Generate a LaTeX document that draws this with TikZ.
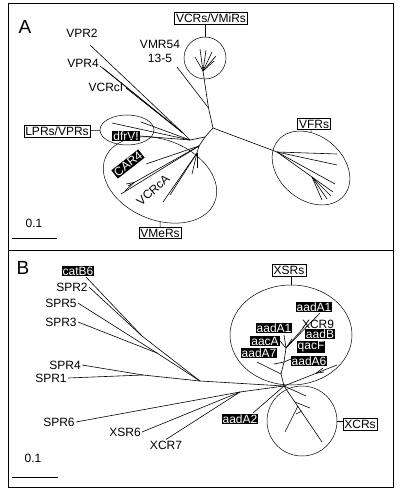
\documentclass[tikz,border=0pt]{standalone}
\usepackage{fontspec}
\setmainfont{Liberation Sans}
\usetikzlibrary{shapes.geometric}
\begin{document}
\begin{tikzpicture}[x=1pt, y=-1pt, line width=0.6pt,
  every node/.style={font=\fontsize{12}{14}\selectfont, inner sep=1pt},
  lab/.style={draw, line width=0.5pt, inner sep=1.5pt},
  tag/.style={fill=black, text=white, inner sep=1pt},
  grp/.style={draw, line width=0.5pt},
  panel/.style={font=\fontsize{19}{20}\selectfont}]
\useasboundingbox (0,0) rectangle (400,494);
\draw[line width=0.8pt] (8,3) rectangle (393,487);
\draw[line width=0.8pt] (8,250) -- (393,250);

% panel A
\node[panel] (pa) at (25,27) {A};
\node (vpr2) at (82,33) {VPR2};
\node (vpr4) at (83,63) {VPR4};
\node (vcrci) at (106,87) {VCRcI};
\node[align=center] (vmr54) at (160,51) {VMR54\\13-5};
\node[lab] (vcrbox) at (211,18) {VCRs/VMiRs};
\node[lab] (lprbox) at (57,131) {LPRs/VPRs};
\node[lab] (vmerbox) at (160,233) {VMeRs};
\node[lab] (vfrbox) at (314,124) {VFRs};
\node[tag] (dfrvi) at (126,136) {dfrVI};
\node[tag, rotate=38] (car4) at (128,164) {CAR4};
\node[rotate=42] (vcrca) at (153,190) {VCRcA};
\node (sa) at (34,223) {0.1};

\node[grp, circle, minimum size=42pt] (vcr) at (205,58) {};
\node[grp, ellipse, minimum width=54pt, minimum height=30pt] (lpr) at (127,130) {};
\node[grp, ellipse, minimum width=118pt, minimum height=80pt, rotate=-22] (vmer) at (160,180) {};
\node[grp, ellipse, minimum width=86pt, minimum height=64pt, rotate=-40] (vfr) at (311,168) {};
\draw[line width=0.5pt] (vcrbox.south -| vcr) -- (vcr);
\draw[line width=0.5pt] (lprbox) -- (lpr);
\draw[line width=0.5pt] (vmerbox) -- (vmer);
\draw[line width=0.5pt] (vfrbox.south -| vfr) -- (vfr);

\coordinate (j0) at (213,128);
\coordinate (vm) at (208.5,108);
\coordinate (vmr) at (177,67);
\coordinate (vc) at (203,71);
\coordinate (vc1) at (195,57);
\coordinate (vc2) at (200,49);
\coordinate (vc3) at (206,50);
\coordinate (vc4) at (212,52);
\coordinate (vc5) at (216,56);
\coordinate (vc6) at (214,61);
\draw (j0) edge (vm);
\draw (vm) edge (vc);
\draw (vm) edge (vmr);
\draw (vc) edge (vc1);
\draw (vc) edge (vc2);
\draw (vc) edge (vc3);
\draw (vc) edge (vc4);
\draw (vc) edge (vc5);
\draw (vc) edge (vc6);

\coordinate (f0) at (277,152);
\coordinate (f1) at (337,154);
\coordinate (f2) at (337,165);
\coordinate (f3) at (335,184);
\coordinate (fb) at (312,177);
\coordinate (f4) at (322,200);
\coordinate (f5) at (327,199);
\coordinate (f6) at (331,196);
\coordinate (f7) at (333,192);
\draw (j0) edge (f0);
\draw (f0) edge (f1);
\draw (f0) edge (f2);
\draw (f0) edge (f3);
\draw (f0) edge (fb);
\draw (fb) edge (f4);
\draw (fb) edge (f5);
\draw (fb) edge (f6);
\draw (fb) edge (f7);

\coordinate (j1) at (205,137);
\coordinate (jp) at (190,140);
\coordinate (jv) at (183,133);
\coordinate (p1) at (90,45);
\coordinate (p2) at (100,66);
\coordinate (p3) at (103,68);
\coordinate (p4) at (126,88);
\draw (j0) edge (j1);
\draw (j1) edge (jp);
\draw (jp) edge (jv);
\draw (jv) edge (p1);
\draw (jv) edge (p2);
\draw (jv) edge (p3);
\draw (jv) edge (p4);

\coordinate (l1) at (112,123);
\coordinate (l2) at (141,122);
\draw (jp) edge (l1);
\draw (jp) edge (l2);
\draw (jp) edge (dfrvi.east);

\coordinate (jm) at (199,146);
\coordinate (jm2) at (197,153);
\coordinate (m1) at (121,194);
\coordinate (m2) at (128,186);
\coordinate (m3) at (146,164);
\coordinate (m4) at (163,202);
\coordinate (m5) at (170,195);
\coordinate (m6) at (192,174);
\coordinate (m7) at (197,168);
\coordinate (mt) at (134,182.6);
\coordinate (mt1) at (125,191);
\coordinate (mt2) at (126,184);
\draw (j1) edge (jm);
\draw (jm) edge (jm2);
\draw (jm) edge (m1);
\draw (jm) edge (m2);
\draw (jm) edge (m3);
\draw (jm2) edge (m4);
\draw (jm2) edge (m5);
\draw (jm2) edge (m6);
\draw (jm2) edge (m7);
\draw (mt) edge (mt1);
\draw (mt) edge (mt2);

\coordinate (sa1) at (12,238);
\coordinate (sa2) at (57,238);
\draw (sa1) edge (sa2);

% panel B
\node[panel] (pb) at (23,268) {B};
\node[tag] (catb6) at (78,271) {catB6};
\node (spr2) at (72,287) {SPR2};
\node (spr5) at (61,303) {SPR5};
\node (spr3) at (61,322) {SPR3};
\node (spr4) at (65,365) {SPR4};
\node (spr1) at (51,378) {SPR1};
\node (spr6) at (59,422) {SPR6};
\node (xsr6) at (125,432) {XSR6};
\node (xcr7) at (166,445) {XCR7};
\node (sb) at (33,458) {0.1};
\node[lab] (xsrbox) at (289,270) {XSRs};
\node[lab] (xcrbox) at (360,424) {XCRs};
\node[tag] (aada1) at (314,307) {aadA1};
\node (xcr9) at (318,324) {XCR9};
\node[tag] (aadb) at (320,334) {aadB};
\node[tag] (qacf) at (311,347) {qacF};
\node[tag] (aada6) at (309,361) {aadA6};
\node[tag] (aada1b) at (274,328) {aadA1};
\node[tag] (aaca) at (265,341) {aacA};
\node[tag] (aada7) at (259,353) {aadA7};
\node[tag] (aada2) at (240,419) {aadA2};

\node[grp, ellipse, minimum width=122pt, minimum height=100pt] (xsr) at (291,335) {};
\node[grp, circle, minimum size=70pt] (xcr) at (302,421) {};
\draw[line width=0.5pt] (xsrbox.south -| xsr) -- (xsr);
\draw[line width=0.5pt] (xcrbox.west |- xcr) -- (xcr);

\coordinate (s0) at (200,381);
\coordinate (s2) at (142,336);
\coordinate (s3) at (157,353);
\coordinate (s4) at (143,375);
\coordinate (c0) at (284,386);
\coordinate (c1) at (240,392);
\coordinate (cb) at (86,277);
\draw (cb) edge (s2);
\draw (spr2.east) edge (s2);
\draw (s2) edge (s0);
\draw (spr5.east) edge (s3);
\draw (spr3.east) edge (s3);
\draw (s3) edge (s0);
\draw (spr4.east) edge (s4);
\draw (spr1.east) edge (s4);
\draw (s4) edge (s0);
\draw (s0) edge (c0);
\draw (spr6.east) edge (c1);
\draw (xsr6.east) edge (c1);
\draw (xcr7.north) edge (c1);
\draw (c1) edge (c0);
\draw ([xshift=-6pt]aada2.north east) edge (c0);

\coordinate (x1) at (281,374);
\coordinate (x2) at (284,362);
\coordinate (x3) at (286,348);
\coordinate (xl1) at (257,362);
\coordinate (xl2) at (274,364);
\coordinate (xl3) at (296,357);
\coordinate (xl4) at (320,313);
\coordinate (xl5) at (304,327);
\coordinate (xl6) at (279,340);
\coordinate (xl7) at (284,335);
\coordinate (xl8) at (292,339);
\coordinate (xr) at (337,365);
\coordinate (xq) at (316,373.3);
\coordinate (xq1) at (323,368);
\coordinate (xq2) at (324,372);
\draw (c0) edge (x1);
\draw (x1) edge (x2);
\draw (x2) edge (x3);
\draw (x1) edge (xl1);
\draw (x2) edge (xl2);
\draw (x2) edge (xl3);
\draw (x3) edge (xl4);
\draw (x3) edge (xl5);
\draw (x3) edge (xl6);
\draw (x3) edge (xl7);
\draw (x3) edge (xl8);
\draw (c0) edge (xr);
\draw (xq) edge (xq1);
\draw (xq) edge (xq2);

\coordinate (xc) at (322,442);
\coordinate (xb) at (295,402);
\coordinate (xb2) at (298,406);
\coordinate (xk1) at (306,396);
\coordinate (xk2) at (310,408);
\coordinate (xk3) at (285,432);
\coordinate (xk4) at (296,414);
\coordinate (xk5) at (302,411);
\draw (c0) edge (xc);
\draw (c0) edge (xk1);
\draw (xb) edge (xk2);
\draw (xb2) edge (xk3);
\draw (xk4) edge (xk5);

\coordinate (sb1) at (12,477);
\coordinate (sb2) at (58,477);
\draw (sb1) edge (sb2);
\end{tikzpicture}
\end{document}
